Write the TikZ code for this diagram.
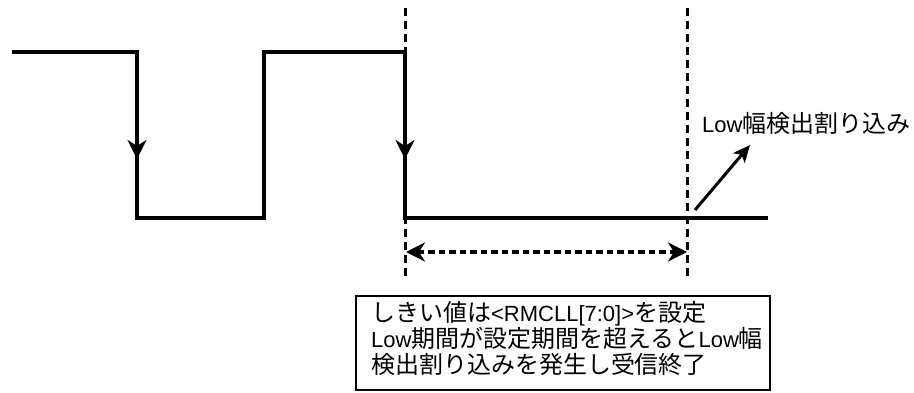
\documentclass[tikz,border=0pt]{standalone}
\usepackage{fontspec}
\setmainfont{Liberation Sans}
\newfontfamily\cjk[Scale=1.09]{Noto Sans CJK JP}
\usetikzlibrary{arrows.meta}
\tikzset{
  wave/.style={line width=4pt, line join=miter},
  guide/.style={line width=3pt, dash pattern=on 8pt off 5pt},
  falltip/.style={line width=4pt, -{Stealth[length=19pt,width=19pt,inset=6pt]}},
  spanarrow/.style={line width=4pt, dash pattern=on 6.5pt off 4pt, {Stealth[length=19pt,width=19pt,inset=6pt]}-{Stealth[length=19pt,width=19pt,inset=6pt]}},
  pointer/.style={line width=3pt, -{Stealth[length=17pt,width=15pt,inset=4pt]}},
  txt/.style={font=\fontsize{22pt}{26pt}\selectfont, inner sep=0pt},
  notebox/.style={draw, line width=2.5pt}
}
\begin{document}
\begin{tikzpicture}[x=1pt,y=-1pt]
\useasboundingbox (0,0) rectangle (914,392);
% coordinates
\coordinate (w0) at (12,52);
\coordinate (f1t) at (137,52);
\coordinate (f1b) at (137,218);
\coordinate (r1b) at (264,218);
\coordinate (r1t) at (264,52);
\coordinate (f2t) at (405,52);
\coordinate (f2b) at (405,218);
\coordinate (wend) at (768,218);
\coordinate (g1t) at (405,8);
\coordinate (g1b) at (405,278);
\coordinate (g2t) at (687,8);
\coordinate (g2b) at (687,278);
\coordinate (s1) at (406,252);
\coordinate (s2) at (687,252);
\coordinate (p1) at (695,210);
\coordinate (p2) at (750,145);
\coordinate (a1s) at (137,120);
\coordinate (a1e) at (137,159);
\coordinate (a2s) at (405,120);
\coordinate (a2e) at (405,159);
% guides
\draw[guide] (g1t) -- (g1b);
\draw[guide] (g2t) -- (g2b);
% waveform
\draw[wave] (w0) -- (f1t) -- (f1b) -- (r1b) -- (r1t) -- (f2t) -- (f2b) -- (wend);
\draw[falltip] (a1s) -- (a1e);
\draw[falltip] (a2s) -- (a2e);
% span arrow
\draw[spanarrow] (s1) -- (s2);
% pointer
\draw[pointer] (p1) -- (p2);
\node[txt, anchor=base west] (lbl) at (702,132) {Low{\cjk 幅検出割り込み}};
% note box
\draw[notebox] (356,296) rectangle (770,390);
\node[txt, anchor=base west] (n1) at (371,321) {{\cjk しきい値は}<RMCLL[7:0]>{\cjk を設定}};
\node[txt, anchor=base west] (n2) at (371,347) {Low{\cjk 期間が設定期間を超えると}Low{\cjk 幅}};
\node[txt, anchor=base west] (n3) at (371,373) {{\cjk 検出割り込みを発生し受信終了}};
\end{tikzpicture}
\end{document}
